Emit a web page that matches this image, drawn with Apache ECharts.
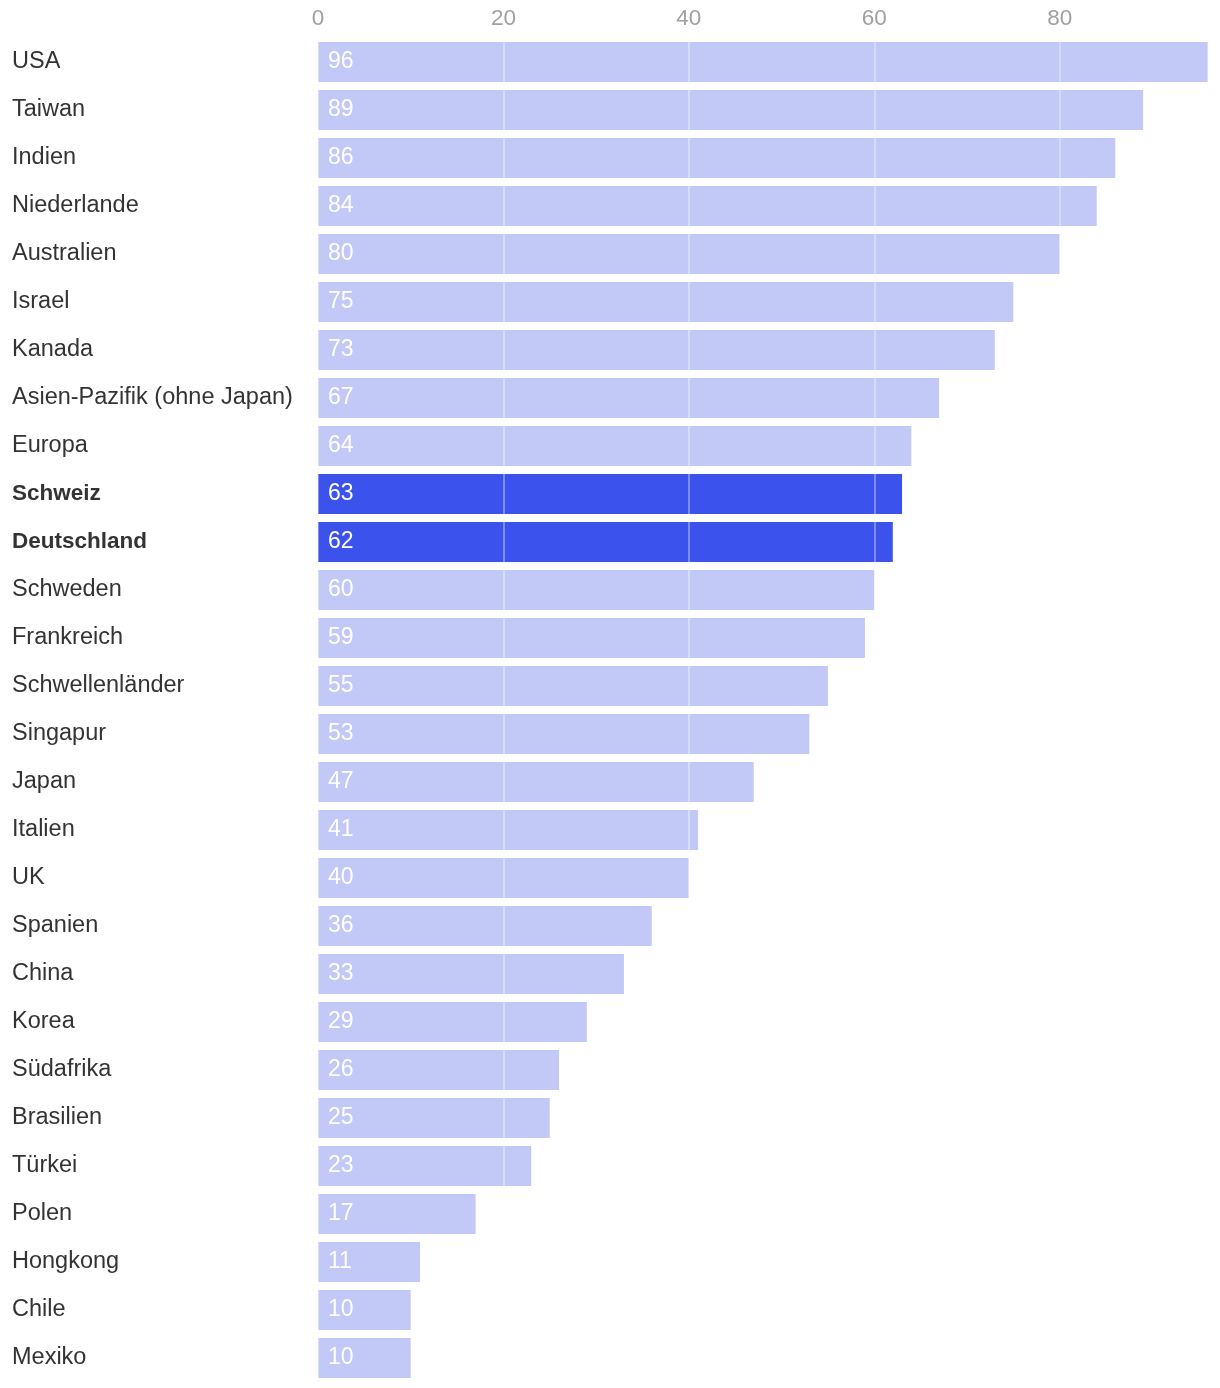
<!DOCTYPE html>
<html>
<head>
<meta charset="utf-8">
<script src="https://cdn.jsdelivr.net/npm/echarts@6/dist/echarts.min.js"></script>
<style>
html,body{margin:0;padding:0;background:#fff;}
#chart{width:1220px;height:1388px;}
</style>
</head>
<body>
<div id="chart"></div>
<script>
const categories = ["USA","Taiwan","Indien","Niederlande","Australien","Israel","Kanada","Asien-Pazifik (ohne Japan)","Europa","Schweiz","Deutschland","Schweden","Frankreich","Schwellenländer","Singapur","Japan","Italien","UK","Spanien","China","Korea","Südafrika","Brasilien","Türkei","Polen","Hongkong","Chile","Mexiko"];
const values = [96,89,86,84,80,75,73,67,64,63,62,60,59,55,53,47,41,40,36,33,29,26,25,23,17,11,10,10];
const highlighted = ["Schweiz","Deutschland"];
const tickValues = [0,20,40,60,80];

const FONT = '"Liberation Sans", Helvetica, Arial, sans-serif';
const chart = echarts.init(document.getElementById('chart'), null, {renderer:'canvas'});
chart.setOption({
  animation:false,
  grid:{left:318,right:12,top:38,bottom:6,containLabel:false},
  xAxis:{
    type:'value', position:'top', min:0, max:96, interval:20, z:5,
    axisLine:{show:false}, axisTick:{show:false},
    axisLabel:{color:'#a0a0a0',fontSize:22.5,fontFamily:FONT,margin:8,
      showMaxLabel:false,
      formatter:v=>tickValues.includes(v)?String(v):''},
    splitLine:{show:true,lineStyle:{color:'rgba(255,255,255,0.45)',width:1.5}}
  },
  yAxis:{
    type:'category', data:categories, inverse:true,
    axisLine:{show:false}, axisTick:{show:false},
    axisLabel:{align:'left',margin:306,fontSize:23.5,fontFamily:FONT,color:'#333',
      formatter:v=>highlighted.includes(v)?'{b|'+v+'}':v,
      rich:{b:{fontWeight:'bold',fontSize:22.5,fontFamily:FONT,color:'#333'}}}
  },
  series:[{
    type:'bar', barCategoryGap:'16.7%', z:2,
    data:values.map((v,i)=>({value:v,itemStyle:{color:highlighted.includes(categories[i])?'#3b52ec':'#c3c9f7'}})),
    label:{show:true,position:'insideLeft',distance:10,color:'#fff',fontSize:23,fontFamily:FONT}
  }]
});
</script>
</body>
</html>
